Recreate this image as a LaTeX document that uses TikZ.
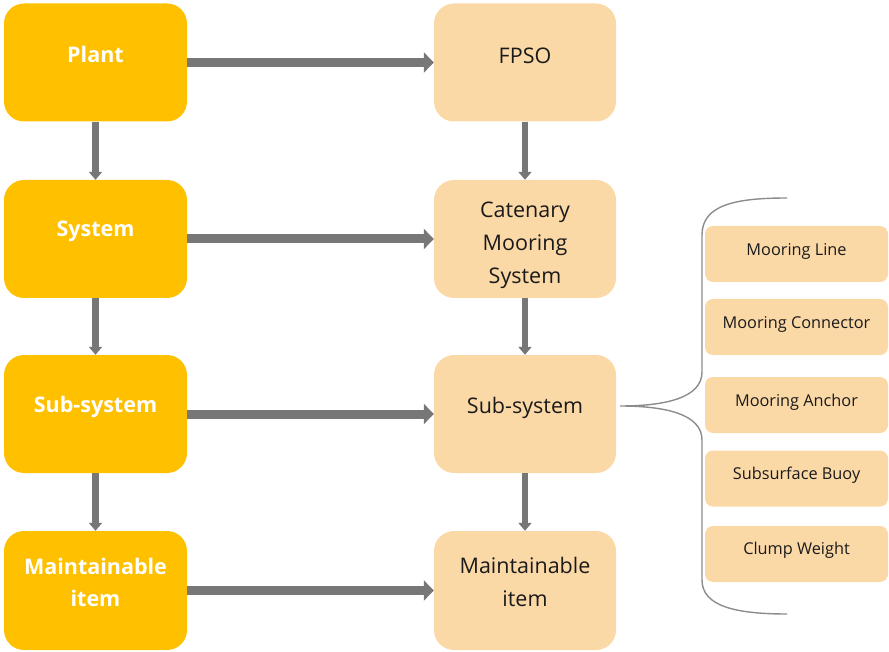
\documentclass[tikz,border=0pt]{standalone}
\usepackage{fontspec}
\setmainfont{Open Sans}
\usetikzlibrary{arrows.meta}
\definecolor{gold}{HTML}{FFC000}
\definecolor{peach}{HTML}{FBD9A7}
\definecolor{arrowgray}{HTML}{777777}
\definecolor{bracegray}{HTML}{8C8C8C}
\definecolor{txt}{HTML}{1A1A1A}
\begin{document}
\begin{tikzpicture}[x=1pt,y=-1pt,
  goldbox/.style={fill=gold, draw=none, rounded corners=20pt, minimum width=183pt, minimum height=118pt, inner sep=0pt},
  peachbox/.style={fill=peach, draw=none, rounded corners=20pt, minimum width=182pt, minimum height=118pt, inner sep=0pt},
  smallbox/.style={fill=peach, draw=none, rounded corners=8pt, minimum width=183pt, minimum height=56pt, inner sep=0pt},
  goldtext/.style={text=white, font=\fontsize{21.5}{32}\selectfont\bfseries, align=center, inner sep=0pt},
  peachtext/.style={text=txt, font=\fontsize{21.5}{33}\selectfont, align=center, inner sep=0pt},
  smalltext/.style={text=txt, font=\fontsize{16.3}{19}\selectfont, inner sep=0pt},
  harrow/.style={draw=arrowgray, line width=9pt, -{Triangle[length=10pt,width=20pt]}},
  varrow/.style={draw=arrowgray, line width=6.5pt, -{Triangle[length=8pt,width=13pt]}},
  bracestyle/.style={draw=bracegray, line width=1.4pt}
]
\useasboundingbox (0,0) rectangle (889,652);
% left column
\node[goldbox] (plant) at (95.5,62.5) {};
\node[goldbox] (system) at (95.5,239) {};
\node[goldbox] (subsys) at (95.5,414) {};
\node[goldbox, minimum height=119pt] (maint) at (95.5,590.5) {};
% right column
\node[peachbox] (fpso) at (525,62.5) {};
\node[peachbox] (cat) at (525,239) {};
\node[peachbox] (subsysR) at (525,414) {};
\node[peachbox, minimum height=119pt] (maintR) at (525,590.5) {};
% small boxes
\node[smallbox] (ml) at (796.5,254) {};
\node[smallbox] (mc) at (796.5,327) {};
\node[smallbox] (ma) at (796.5,405) {};
\node[smallbox] (sb) at (796.5,478.5) {};
\node[smallbox] (cw) at (796.5,554) {};
% texts
\node[goldtext] (tplant) at (95.5,54) {Plant};
\node[goldtext] (tsystem) at (95.5,231.5) {System};
\node[goldtext] (tsubsys) at (95.5,407) {Sub-system};
\node[goldtext] (tmaint) at (95.5,582) {Maintainable\\item};
\node[peachtext] (tfpso) at (525,56) {FPSO};
\node[peachtext] (tcat) at (525,245) {Catenary\\Mooring\\System};
\node[peachtext] (tsubsysR) at (525,407.5) {Sub-system};
\node[peachtext] (tmaintR) at (525,582) {Maintainable\\item};
\node[smalltext] (tml) at (796.5,251) {Mooring Line};
\node[smalltext] (tmc) at (796.5,324) {Mooring Connector};
\node[smalltext] (tma) at (796.5,402) {Mooring Anchor};
\node[smalltext] (tsb) at (796.5,475) {Subsurface Buoy};
\node[smalltext] (tcw) at (796.5,550) {Clump Weight};
% horizontal arrows
\draw[harrow] (plant.east) -- (fpso.west);
\draw[harrow] (system.east) -- (cat.west);
\draw[harrow] (subsys.east) -- (subsysR.west);
\draw[harrow] (maint.east) -- (maintR.west);
% vertical arrows
\draw[varrow] (plant.south) -- (system.north);
\draw[varrow] (system.south) -- (subsys.north);
\draw[varrow] (subsys.south) -- (maint.north);
\draw[varrow] (fpso.south) -- (cat.north);
\draw[varrow] (cat.south) -- (subsysR.north);
\draw[varrow] (subsysR.south) -- (maintR.north);
% brace
\draw[bracestyle] (787,198) .. controls (735,198) and (702,205) .. (702,235)
  -- (702,372) .. controls (702,398) and (665,406) .. (620,406)
  .. controls (665,406) and (702,414) .. (702,440)
  -- (702,580) .. controls (702,606) and (735,614) .. (787,614);
\end{tikzpicture}
\end{document}
